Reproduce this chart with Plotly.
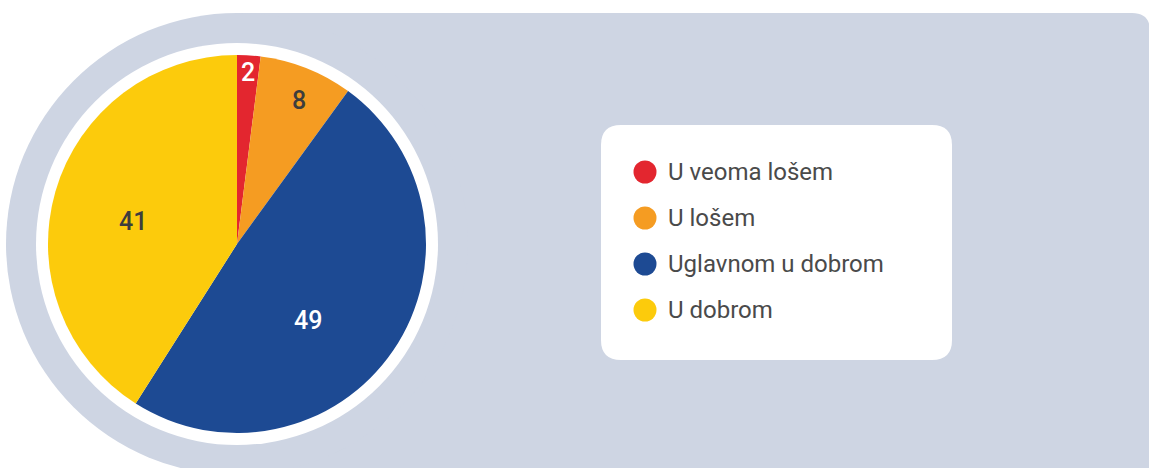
import math
import plotly.graph_objects as go

# ---- data ----
categories = ["U veoma lošem", "U lošem", "Uglavnom u dobrom", "U dobrom"]
values = [2, 8, 49, 41]
colors = ["#E3262F", "#F59C22", "#1D4A93", "#FCCB0C"]
label_colors = ["#FFFFFF", "#3D3D3D", "#FFFFFF", "#3D3D3D"]

# ---- style / layout (pixels) ----
W, H = 1149, 468
CX, CY = 237, 244          # pie centre
R_PIE = 189
R_WHITE = 201
R_GRAY = 231
BG = "#CED5E3"
label_radius = [0.907, 0.825, 0.55, 0.563]
label_angle_adj = [0.0, 1.8, 12.8, -4.0]

fig = go.Figure()

# pie
fig.add_trace(go.Pie(
    labels=categories, values=values, sort=False, direction="clockwise",
    rotation=0, marker=dict(colors=colors, line=dict(width=0)),
    textinfo="none", hoverinfo="label+value", showlegend=False,
    domain=dict(x=[(CX - R_PIE) / W, (CX + R_PIE) / W],
                y=[(H - CY - R_PIE) / H, (H - CY + R_PIE) / H]),
))

# legend markers
LEG_X_MARK, LEG_X_TEXT, LEG_Y0, LEG_DY = 645, 666, 172, 46
leg_y = [LEG_Y0 + i * LEG_DY for i in range(len(categories))]
fig.add_trace(go.Scatter(
    x=[LEG_X_MARK] * len(categories), y=leg_y, mode="markers",
    marker=dict(size=23, color=colors, line=dict(width=0)),
    hoverinfo="skip", showlegend=False, cliponaxis=False,
))

shapes = [
    # gray background: rect + big circle
    dict(type="path", xref="x", yref="y", layer="below",
         path="M 237 13 L 1132 13 Q 1150 13 1150 31 L 1150 490 L 237 490 Z",
         fillcolor=BG, line=dict(width=0)),
    dict(type="circle", xref="x", yref="y", layer="below",
         x0=CX - R_GRAY, x1=CX + R_GRAY, y0=CY - R_GRAY, y1=CY + R_GRAY,
         fillcolor=BG, line=dict(width=0)),
    dict(type="circle", xref="x", yref="y", layer="below",
         x0=CX - R_WHITE, x1=CX + R_WHITE, y0=CY - R_WHITE, y1=CY + R_WHITE,
         fillcolor="#FFFFFF", line=dict(width=0)),
    # legend box
    dict(type="path", xref="x", yref="y", layer="below",
         path="M 621 125 L 932 125 Q 952 125 952 145 L 952 340 Q 952 360 932 360 "
              "L 621 360 Q 601 360 601 340 L 601 145 Q 601 125 621 125 Z",
         fillcolor="#FFFFFF", line=dict(width=0)),
]

annotations = []
# slice value labels, positioned from cumulative data
total = sum(values)
cum = 0
for v, lc, rf, adj in zip(values, label_colors, label_radius, label_angle_adj):
    mid = (cum + v / 2) / total * 360 + adj
    cum += v
    ang = math.radians(mid)
    x = CX + rf * R_PIE * math.sin(ang)
    y = CY - rf * R_PIE * math.cos(ang)
    annotations.append(dict(
        x=x, y=y, xref="x", yref="y", text=str(v), showarrow=False,
        xanchor="center", yanchor="middle",
        font=dict(family="Roboto", size=25, color=lc, weight=500),
    ))

# legend texts
for cat, y in zip(categories, leg_y):
    annotations.append(dict(
        x=LEG_X_TEXT, y=y, xref="x", yref="y", text=cat, showarrow=False,
        xanchor="left", yanchor="middle",
        font=dict(family="Roboto", size=24, color="#4A4A4A"),
    ))

fig.update_layout(
    width=W, height=H, margin=dict(l=0, r=0, t=0, b=0),
    paper_bgcolor="#FFFFFF", plot_bgcolor="rgba(0,0,0,0)",
    xaxis=dict(range=[0, W], visible=False, fixedrange=True, domain=[0, 1]),
    yaxis=dict(range=[H, 0], visible=False, fixedrange=True, domain=[0, 1]),
    shapes=shapes, annotations=annotations, showlegend=False,
)

fig.write_html("out.html", config={"displayModeBar": False},
               post_script="document.body.style.margin='0';document.body.style.overflow='hidden';")
